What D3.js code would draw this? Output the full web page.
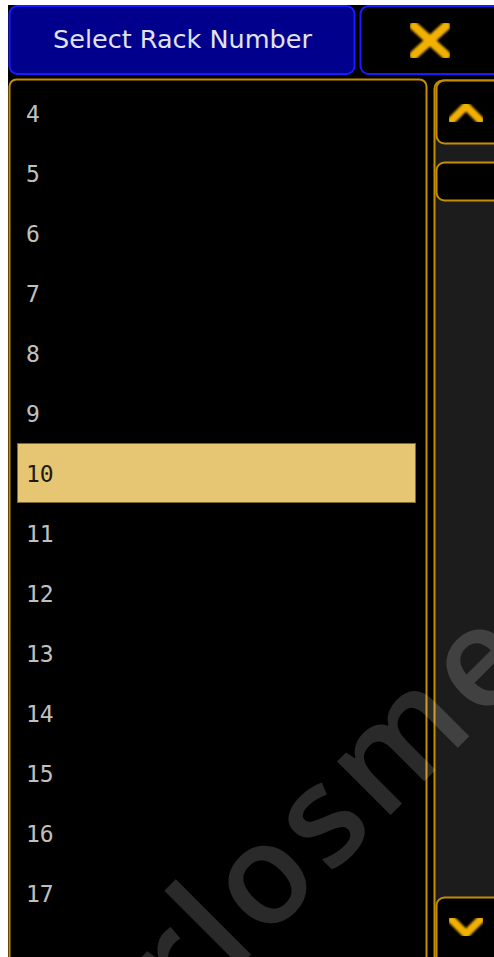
<!DOCTYPE html>
<html>
<head>
<meta charset="utf-8">
<script src="https://cdn.jsdelivr.net/npm/d3@7"></script>
<style>
  html, body { margin: 0; padding: 0; background: #fff; overflow: hidden; }
  svg { display: block; }
</style>
</head>
<body>
<script>
// data
var racks = [4, 5, 6, 7, 8, 9, 10, 11, 12, 13, 14, 15, 16, 17];
var selectedRack = 10;
var titleText = "Select Rack Number";
var watermark = "carlosmeco";

var width = 494, height = 957;

var blue = "#1a1aff", blueFill = "#00008c";
var gold = "#c58e00", chevron = "#f2b100";

var svg = d3.select("body").append("svg")
	.attr("width", width)
	.attr("height", height);

var defs = svg.append("defs");
defs.append("filter").attr("id", "soft")
	.append("feGaussianBlur").attr("stdDeviation", 1.1);

// black screen area
svg.append("rect")
	.attr("x", 8).attr("y", 5)
	.attr("width", width).attr("height", height)
	.attr("fill", "#000");

/* title bar */
svg.append("rect")
	.attr("x", 9.5).attr("y", 6).attr("width", 345).attr("height", 68)
	.attr("rx", 8)
	.attr("fill", blueFill).attr("stroke", blue).attr("stroke-width", 2);

svg.append("text")
	.attr("x", 182.5).attr("y", 48)
	.attr("text-anchor", "middle")
	.attr("font-family", "DejaVu Sans")
	.attr("font-size", 25.5)
	.attr("fill", "#e2e2ec")
	.text(titleText);

svg.append("rect")
	.attr("x", 360.5).attr("y", 6).attr("width", 150).attr("height", 68)
	.attr("rx", 8)
	.attr("fill", "#000").attr("stroke", blue).attr("stroke-width", 2);

svg.append("path")
	.attr("d", "M414,26 L446,55 M446,26 L414,55")
	.attr("stroke", chevron).attr("stroke-width", 9)
	.attr("stroke-linecap", "round")
	.attr("filter", "url(#soft)");

/* list */
svg.append("rect")
	.attr("x", 9.5).attr("y", 79.5).attr("width", 417).attr("height", 900)
	.attr("rx", 7)
	.attr("fill", "#000").attr("stroke", gold).attr("stroke-width", 2);

var y = d3.scaleBand()
	.domain(racks)
	.range([83, 83 + racks.length * 60]);

var rows = svg.append("g").selectAll("g")
	.data(racks)
	.enter().append("g")
	.attr("transform", function(d) { return "translate(0," + y(d) + ")"; });

rows.filter(function(d) { return d === selectedRack; })
	.append("rect")
	.attr("x", 17.5).attr("y", 0.5)
	.attr("width", 398).attr("height", y.bandwidth() - 1)
	.attr("fill", "#e6c673")
	.attr("stroke", "#7d6a35").attr("stroke-width", 1);

rows.append("text")
	.attr("x", 26)
	.attr("y", y.bandwidth() / 2 + 9)
	.attr("font-family", "DejaVu Sans Mono")
	.attr("font-size", 23)
	.attr("fill", function(d) { return d === selectedRack ? "#1e1a10" : "#c0c0c0"; })
	.text(function(d) { return d; });

/* scrollbar */
var sb = svg.append("g");
sb.append("rect")
	.attr("x", 434.5).attr("y", 80.5).attr("width", 80).attr("height", 900)
	.attr("rx", 8)
	.attr("fill", "#1c1c1c").attr("stroke", gold).attr("stroke-width", 2);

[[80.5, 63], [162.5, 38], [897.5, 80]].forEach(function(b) {
	sb.append("rect")
		.attr("x", 436.5).attr("y", b[0]).attr("width", 80).attr("height", b[1])
		.attr("rx", 8)
		.attr("fill", "#000").attr("stroke", gold).attr("stroke-width", 2);
});

sb.append("path")
	.attr("d", "M452,120 L466,106 L480,120")
	.attr("fill", "none")
	.attr("stroke", chevron).attr("stroke-width", 8)
	.attr("stroke-linecap", "round").attr("stroke-linejoin", "round")
	.attr("filter", "url(#soft)");

sb.append("path")
	.attr("d", "M452,920 L466,934 L480,920")
	.attr("fill", "none")
	.attr("stroke", chevron).attr("stroke-width", 8)
	.attr("stroke-linecap", "round").attr("stroke-linejoin", "round")
	.attr("filter", "url(#soft)");

/* watermark */
var fs = 140;
var wm = svg.append("g");
var wt = wm.append("text")
	.attr("font-family", "Open Sans")
	.attr("font-weight", 600)
	.attr("font-size", fs)
	.attr("letter-spacing", 7)
	.attr("fill", "#fff")
	.attr("fill-opacity", 0.165)
	.text(watermark);

// put the stem of the "l" where it sits in the picture
var lp = wt.node().getStartPositionOfChar(3);
var px = lp.x + 0.15 * fs, py = -0.72 * fs;
var c = Math.SQRT1_2;
var tx = 175 - (c * px + c * py), ty = 888 - (-c * px + c * py);
wm.attr("transform", "translate(" + tx + "," + ty + ") rotate(-45)");
</script>
</body>
</html>
